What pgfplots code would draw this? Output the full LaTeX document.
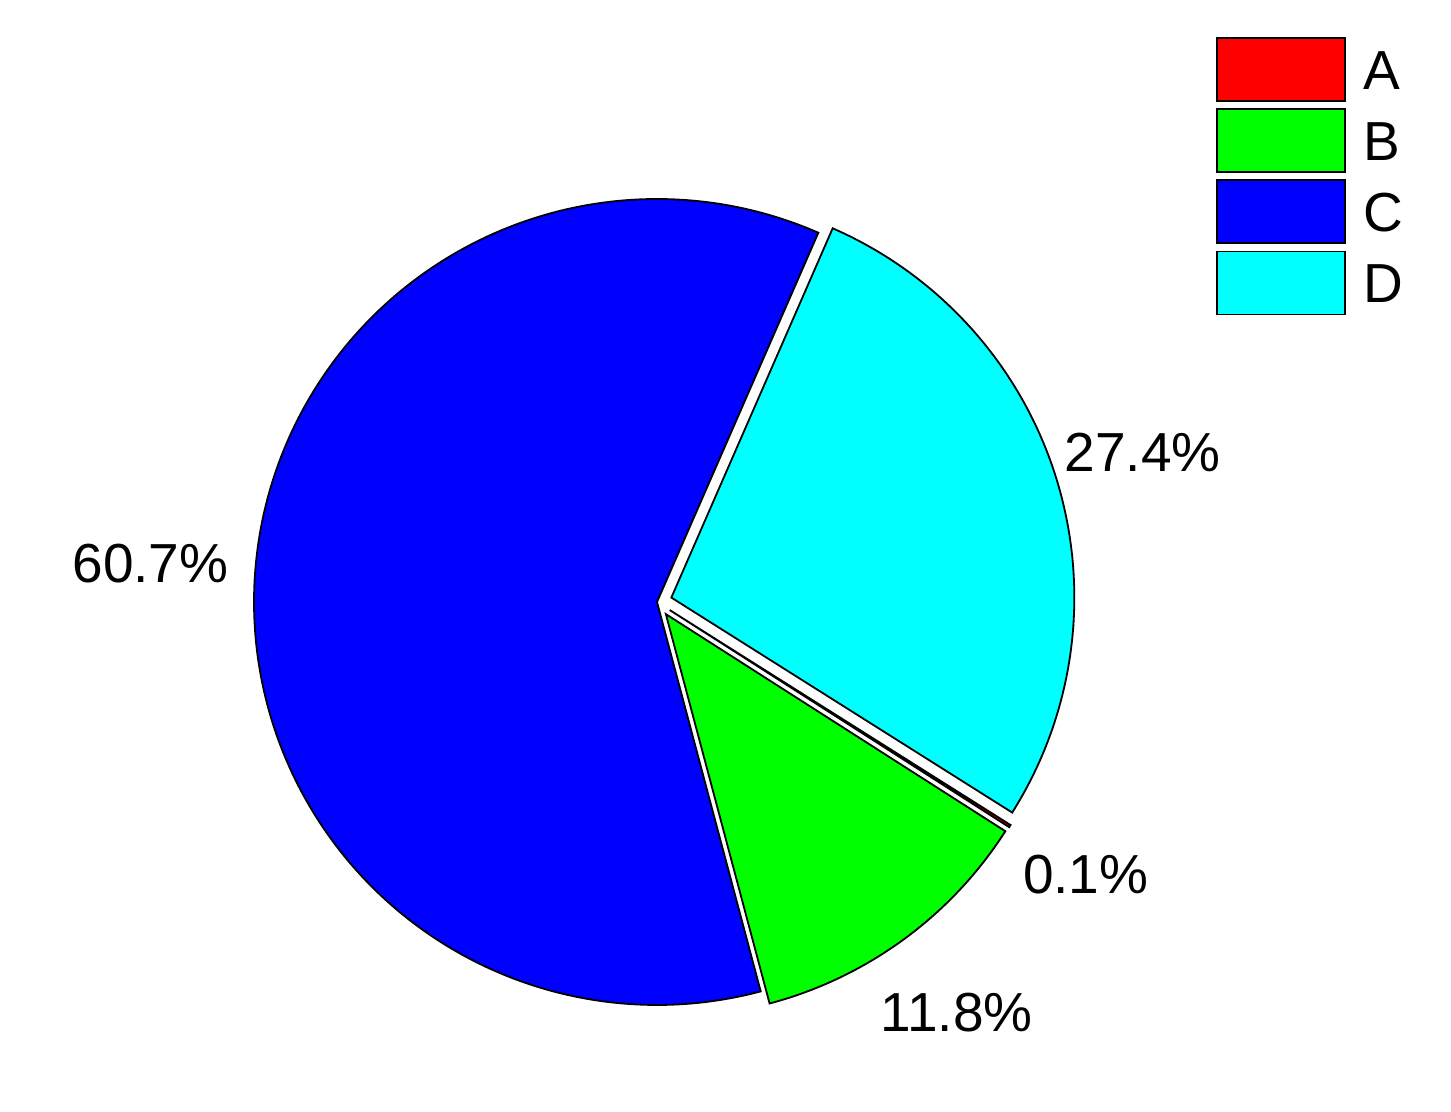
\documentclass[border=0pt]{standalone}
\usepackage{fontspec}
\setmainfont{Liberation Sans}
\usepackage{pgfplots}
\usepackage{pgfplotstable}
\pgfplotsset{compat=1.18}

\definecolor{sliceA}{RGB}{255,0,0}
\definecolor{sliceB}{RGB}{0,255,0}
\definecolor{sliceC}{RGB}{0,0,255}
\definecolor{sliceD}{RGB}{0,255,255}

% pie shares in percent
\pgfplotstableread{
label value
A 0.1
B 11.8
C 60.7
D 27.4
}\piedata
\pgfplotstablegetelem{0}{value}\of\piedata\let\vA\pgfplotsretval
\pgfplotstablegetelem{1}{value}\of\piedata\let\vB\pgfplotsretval
\pgfplotstablegetelem{2}{value}\of\piedata\let\vC\pgfplotsretval
\pgfplotstablegetelem{3}{value}\of\piedata\let\vD\pgfplotsretval

% geometry in pixel units of the picture (y up)
\def\cx{657}\def\cy{510}\def\R{403}\def\ex{15}\def\rl{508}
% slices run clockwise from 66.4 deg: D, A, B, C
\pgfmathsetmacro\eD{66.4}
\pgfmathsetmacro\sD{\eD-3.6*\vD}
\pgfmathsetmacro\eA{\sD}
\pgfmathsetmacro\sA{\eA-3.6*\vA}
\pgfmathsetmacro\eB{\sA}
\pgfmathsetmacro\sB{\eB-3.6*\vB}
\pgfmathsetmacro\eC{\sB}
\pgfmathsetmacro\sC{\eC-3.6*\vC}
% exploded apex of each slice
\pgfmathsetmacro\oxA{\cx+\ex*cos((\sA+\eA)/2)}\pgfmathsetmacro\oyA{\cy+\ex*sin((\sA+\eA)/2)}
\pgfmathsetmacro\oxB{\cx+\ex*cos((\sB+\eB)/2)}\pgfmathsetmacro\oyB{\cy+\ex*sin((\sB+\eB)/2)}
\pgfmathsetmacro\oxC{\cx}\pgfmathsetmacro\oyC{\cy}
\pgfmathsetmacro\oxD{\cx+\ex*cos((\sD+\eD)/2)}\pgfmathsetmacro\oyD{\cy+\ex*sin((\sD+\eD)/2)}
% label positions
\pgfmathsetmacro\lxA{\cx+\rl*cos((\sA+\eA)/2)}\pgfmathsetmacro\lyA{\cy+\rl*sin((\sA+\eA)/2)}
\pgfmathsetmacro\lxB{\cx+\rl*cos((\sB+\eB)/2)}\pgfmathsetmacro\lyB{\cy+\rl*sin((\sB+\eB)/2)}
\pgfmathsetmacro\lxC{\cx+\rl*cos((\sC+\eC)/2)}\pgfmathsetmacro\lyC{\cy+\rl*sin((\sC+\eC)/2)}
\pgfmathsetmacro\lxD{\cx+\rl*cos((\sD+\eD)/2)}\pgfmathsetmacro\lyD{\cy+\rl*sin((\sD+\eD)/2)}

\begin{document}
\begin{tikzpicture}
\begin{axis}[
    hide axis, scale only axis, clip=false,
    width=725.5pt, height=556pt,
    xmin=0, xmax=1451, ymin=0, ymax=1112,
    font=\fontsize{27.5}{33}\selectfont,
    legend image code/.code={
        \draw[#1, line width=0.9pt] (0pt,-15.75pt) rectangle (64pt,15.75pt);
        \path (73pt,0pt);
    },
    legend style={
        at={(axis cs:1216,1075)}, anchor=north west,
        draw=none, fill=none, inner sep=0pt, outer sep=0pt, row sep=3.2pt,
        nodes={inner sep=0pt, anchor=west, text height=19.7pt, text depth=0pt},
    },
    every axis plot/.append style={draw=black, line width=0.9pt},
]
\path (axis cs:0,0) rectangle (axis cs:1451,1112);

\addplot[fill=sliceA, domain=\sA:\eA, samples=5, variable=\t]
    ({\oxA+\R*cos(\t)}, {\oyA+\R*sin(\t)}) -- (axis cs:\oxA,\oyA) -- cycle;
\addlegendentry{A}
\addplot[fill=sliceB, domain=\sB:\eB, samples=60, variable=\t]
    ({\oxB+\R*cos(\t)}, {\oyB+\R*sin(\t)}) -- (axis cs:\oxB,\oyB) -- cycle;
\addlegendentry{B}
\addplot[fill=sliceC, domain=\sC:\eC, samples=240, variable=\t]
    ({\oxC+\R*cos(\t)}, {\oyC+\R*sin(\t)}) -- (axis cs:\oxC,\oyC) -- cycle;
\addlegendentry{C}
\addplot[fill=sliceD, domain=\sD:\eD, samples=120, variable=\t]
    ({\oxD+\R*cos(\t)}, {\oyD+\R*sin(\t)}) -- (axis cs:\oxD,\oyD) -- cycle;
\addlegendentry{D}

\node at (axis cs:\lxA,\lyA) {\vA\%};
\node at (axis cs:\lxB,\lyB) {\vB\%};
\node at (axis cs:\lxC,\lyC) {\vC\%};
\node at (axis cs:\lxD,\lyD) {\vD\%};
\end{axis}
\end{tikzpicture}
\end{document}
